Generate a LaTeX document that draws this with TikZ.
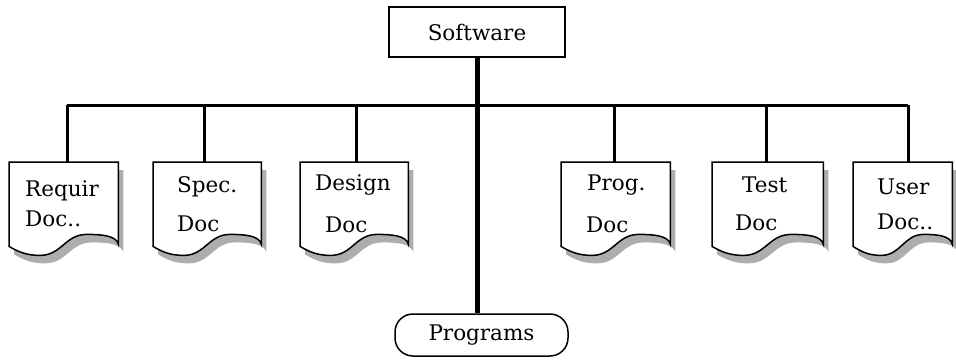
\documentclass[tikz,border=0pt]{standalone}
\usepackage{fontspec}
\setmainfont{DejaVu Serif}
\usetikzlibrary{calc,backgrounds}
% #1 node, #2 x shift, #3 y shift (down), #4 width
\newcommand\docoutline[4]{%
 ($(#1.north west)+(#2,#3)$) -- ($(#1.north east)+(#2,#3)$) --
 ($(#1.south east)+(#2,{#3-2})$)
   .. controls +(-2,-9) and +({0.13*#4},0) ..
 ($(#1.south east)+({#2-0.29*#4},{#3-12})$)
   .. controls +({-0.2*#4},0) and +({0.2*#4},0) ..
 ($(#1.south east)+({#2-0.72*#4},{#3+9})$)
   .. controls +({-0.13*#4},0) and +({0.08*#4},5) ..
 ($(#1.south west)+(#2,#3)$) -- cycle}
\begin{document}
\begin{tikzpicture}[x=1pt,y=-1pt,
  txt/.style={font=\fontsize{21.5}{25}\selectfont},
  docbox/.style={txt, rectangle, inner sep=0pt, minimum height=84pt,
    anchor=north west, align=left},
  topbox/.style={txt, draw, line width=1.5pt, minimum width=176pt, minimum height=50pt, inner sep=0pt},
  termbox/.style={txt, draw, line width=1.5pt, rounded corners=18pt, minimum width=173pt, minimum height=42pt, inner sep=0pt},
  outline/.style={draw, line width=1.5pt, fill=white},
  shadowfill/.style={fill=black!32, draw=none},
  link/.style={line width=3pt},
  mainlink/.style={line width=5pt}]
\useasboundingbox (0,0) rectangle (956,359);

\node[topbox] (sw) at (477,32) {Software};
\node[termbox] (pg) at (481.5,335) {Programs};

\node[docbox, text width=109pt] (d1) at (9,162) {\hspace*{16pt}Requir\\[5pt]\hspace*{16pt}Doc..};
\node[docbox, text width=108pt] (d2) at (153,162) {\hspace*{24pt}Spec.\\[14pt]\hspace*{24pt}Doc};
\node[docbox, text width=108pt] (d3) at (300,162) {\hspace*{15pt}Design\\[17pt]\hspace*{25pt}Doc};
\node[docbox, text width=109pt] (d4) at (561,162) {\hspace*{26pt}Prog.\\[17pt]\hspace*{25pt}Doc};
\node[docbox, text width=111pt] (d5) at (712,162) {\hspace*{30pt}Test\\[13pt]\hspace*{23pt}Doc};
\node[docbox, text width=99pt] (d6) at (853,162) {\hspace*{24pt}User\\[10pt]\hspace*{24pt}Doc..};

\begin{scope}[on background layer]
\foreach \n/\w in {d1/109,d2/108,d3/108,d4/109,d5/111,d6/99}{
  \path[shadowfill] \docoutline{\n}{5}{8}{\w};
  \path[outline] \docoutline{\n}{0}{0}{\w};
}
\end{scope}

% connectors
\coordinate (bl) at (67,105);
\coordinate (br) at (908,105);
\draw[link] (bl) -- (br);
\foreach \n/\x in {d1/67,d2/204,d3/356,d4/614,d5/766,d6/908}{
  \coordinate (t\n) at (\x,105);
  \draw[link] (t\n) -- (t\n |- \n.north);
}
\draw[mainlink] (sw.south) -- (sw.south |- pg.north);
\end{tikzpicture}
\end{document}
